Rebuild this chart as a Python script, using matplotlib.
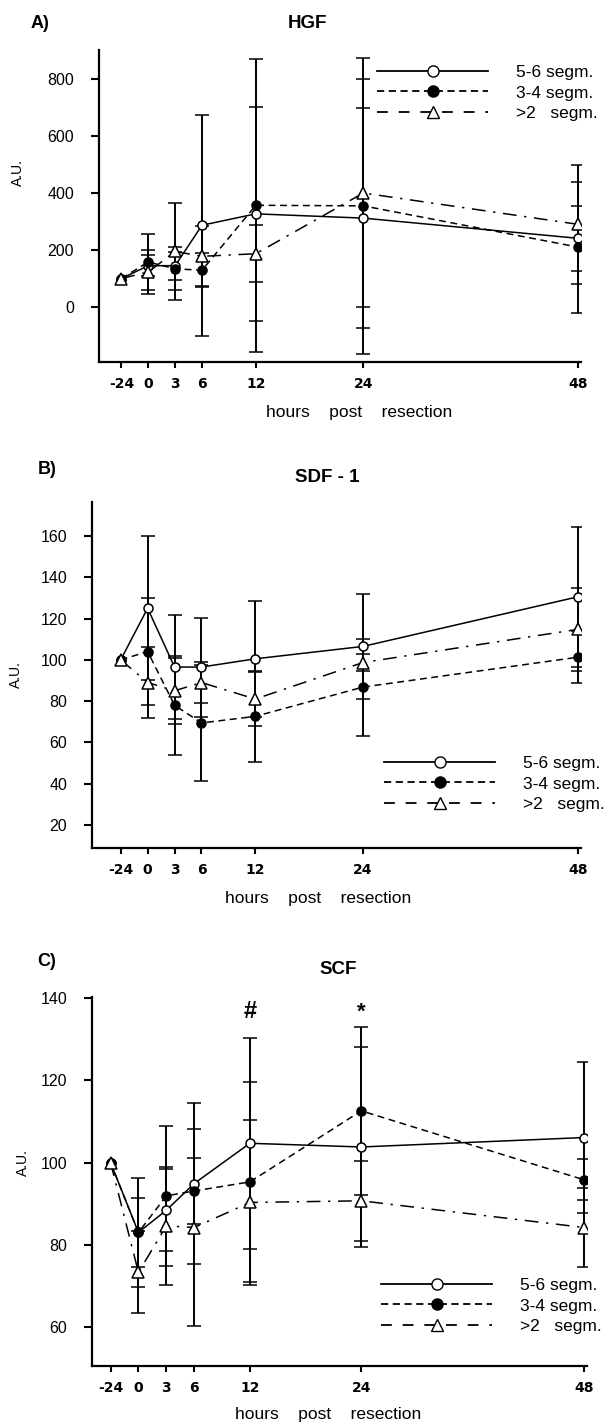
#!/usr/bin/env python3
"""
HGF / SDF-1 / SCF after partial resection - three stacked panels
"""

import matplotlib
matplotlib.use('Agg')
import matplotlib.pyplot as plt
from matplotlib.lines import Line2D

plt.rcParams['font.family'] = ['Liberation Sans', 'DejaVu Sans']
plt.rcParams['font.size'] = 11

W, H = 613, 1424

# x axis: -24 h is squeezed in just before 0, the rest is linear in hours
hours = ['-24', '0', '3', '6', '12', '24', '48']
x_pos = [-3, 0, 3, 6, 12, 24, 48]

labels = ['5-6 segm.', '3-4 segm.', '>2   segm.']

# A) HGF
hgf_56 = [100, 145, 145, 287, 327, 312, 241]
hgf_56_sd = [0, 36, 49, 388, 375, 386, 115]
hgf_34 = [100, 158, 134, 129, 357, 355, 210]
hgf_34_sd = [0, 99, 76, 60, 515, 520, 230]
hgf_2 = [100, 123, 195, 178, 187, 400, 290]
hgf_2_sd = [0, 78, 170, 105, 100, 400, 210]

# B) SDF-1
sdf_56 = [100, 125, 96.5, 96.5, 100.5, 106.5, 130.6]
sdf_56_sd = [0, 35, 25, 24, 28, 25.5, 34]
sdf_34 = [100, 104, 78, 69.4, 72.6, 86.8, 101.3]
sdf_34_sd = [0, 26, 24, 28, 22, 23.5, 12.5]
sdf_2 = [100, 89, 85, 89, 81, 98.7, 114.8]
sdf_2_sd = [0, 17, 16, 10, 13, 4, 20]

# C) SCF
scf_56 = [100, 83, 88.4, 94.9, 104.7, 103.8, 106.1]
scf_56_sd = [0, 13.2, 10, 19.5, 25.7, 24.4, 18.4]
scf_34 = [100, 83, 91.9, 93.1, 95.3, 112.6, 95.8]
scf_34_sd = [0, 8.5, 17, 8, 24.4, 20.4, 5]
scf_2 = [100, 73.3, 84.6, 84.2, 90.3, 90.7, 84.2]
scf_2_sd = [0, 10, 14.3, 24, 20, 9.7, 9.5]

STYLES = [
    dict(ls='-', marker='o', mfc='white', ms=6.5),
    dict(ls=(0, (4.5, 3)), marker='o', mfc='black', ms=6.5),
    dict(ls=(0, (9, 5, 1.5, 5)), marker='^', mfc='white', ms=8),
]
LEG_STYLES = [
    dict(ls='-', marker='o', mfc='white', ms=8),
    dict(ls=(0, (4, 2.5)), marker='o', mfc='black', ms=8),
    dict(ls=(0, (6, 6)), marker='^', mfc='white', ms=9),
]


def px_box(l, r, t, b):
    return [l / W, 1 - b / H, (r - l) / W, (b - t) / H]


def ftext(fig, x, y, s, **kw):
    fig.text(x / W, 1 - y / H, s, ha='center', va='center', **kw)


def draw_panel(fig, box, xlim, ylim, yticks, series, leg_xy):
    ax = fig.add_axes(px_box(*box))
    for (vals, sd), st in zip(series, STYLES):
        # no error bar at -24 h (baseline = 100)
        ax.errorbar(x_pos, vals, yerr=sd, errorevery=(1, 1), color='black',
                    lw=1.1, elinewidth=1.4, capsize=5, capthick=1.4,
                    mec='black', mew=1.1, zorder=3, **st)
    ax.set_xlim(*xlim)
    ax.set_ylim(*ylim)
    ax.set_xticks(x_pos)
    ax.set_xticklabels(hours, fontsize=10, fontweight='bold',
                       family=['Liberation Sans Narrow', 'DejaVu Sans'])
    ax.set_yticks(yticks)
    ax.set_yticklabels([str(t) for t in yticks], fontsize=11.5)
    ax.tick_params(axis='y', length=6, width=1.5, pad=12)
    ax.tick_params(axis='x', length=4, width=1.5, pad=7)
    for s in ['top', 'right']:
        ax.spines[s].set_visible(False)
    for s in ['left', 'bottom']:
        ax.spines[s].set_linewidth(1.6)

    handles = [Line2D([], [], color='black', lw=1.3, mec='black', **st)
               for st in LEG_STYLES]
    ax.legend(handles, labels, loc='upper left', frameon=False,
              bbox_to_anchor=(leg_xy[0] / W, 1 - leg_xy[1] / H),
              bbox_transform=fig.transFigure, fontsize=12.5,
              handlelength=6.4, handletextpad=1.6, labelspacing=0.3,
              borderpad=0, borderaxespad=0)
    return ax


fig = plt.figure(figsize=(W / 100, H / 100), dpi=100)

# === A) HGF ===
draw_panel(fig, (99, 581, 50, 362), (-5.5, 48.3), (-193, 902),
           [0, 200, 400, 600, 800],
           [(hgf_56, hgf_56_sd), (hgf_34, hgf_34_sd), (hgf_2, hgf_2_sd)],
           (377, 65))
ftext(fig, 40, 23, 'A)', fontsize=13, fontweight='bold')
ftext(fig, 307, 23, 'HGF', fontsize=13.5, fontweight='bold')
ftext(fig, 18, 173, 'A.U.', fontsize=10, rotation=90)
ftext(fig, 359, 413, 'hours    post    resection', fontsize=12.5)

# === B) SDF-1 ===
draw_panel(fig, (92, 581, 502, 848), (-6.2, 48.3), (8.8, 176.5),
           [20, 40, 60, 80, 100, 120, 140, 160],
           [(sdf_56, sdf_56_sd), (sdf_34, sdf_34_sd), (sdf_2, sdf_2_sd)],
           (384, 756))
ftext(fig, 47, 470, 'B)', fontsize=13, fontweight='bold')
ftext(fig, 327, 478, 'SDF - 1', fontsize=13.5, fontweight='bold')
ftext(fig, 16, 675, 'A.U.', fontsize=10, rotation=90)
ftext(fig, 318, 898, 'hours    post    resection', fontsize=12.5)

# === C) SCF ===
ax_c = draw_panel(fig, (92, 587, 997, 1366), (-5.0, 48.3), (50.5, 140.3),
                  [60, 80, 100, 120, 140],
                  [(scf_56, scf_56_sd), (scf_34, scf_34_sd), (scf_2, scf_2_sd)],
                  (381, 1278))
ax_c.text(12, 136.8, '#', ha='center', va='center', fontsize=17, fontweight='bold')
ax_c.text(24, 136.6, '*', ha='center', va='center', fontsize=16, fontweight='bold')
ftext(fig, 47, 962, 'C)', fontsize=13, fontweight='bold')
ftext(fig, 338, 970, 'SCF', fontsize=13.5, fontweight='bold')
ftext(fig, 23, 1163, 'A.U.', fontsize=10, rotation=90)
ftext(fig, 328, 1415, 'hours    post    resection', fontsize=12.5)

fig.savefig('out.png', dpi=100, facecolor='white')
plt.close(fig)
